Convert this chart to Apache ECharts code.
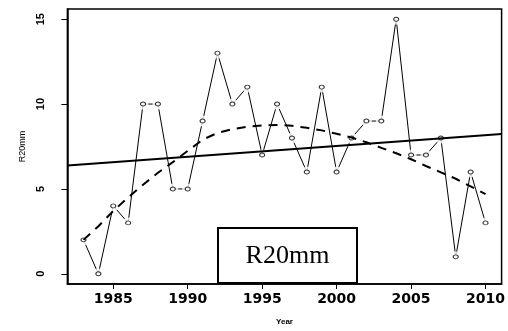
<!DOCTYPE html>
<html>
<head>
<meta charset="utf-8">
<script src="https://cdn.jsdelivr.net/npm/echarts@6/dist/echarts.min.js"></script>
<style>html,body{margin:0;padding:0;background:#fff}#c{width:508px;height:331px}</style>
</head>
<body>
<div id="c"></div>
<script>
// Data
const years = [1983,1984,1985,1986,1987,1988,1989,1990,1991,1992,1993,1994,1995,1996,1997,1998,1999,2000,2001,2002,2003,2004,2005,2006,2007,2008,2009,2010];
const r20mm = [2,0,4,3,10,10,5,5,9,13,10,11,7,10,8,6,11,6,8,9,9,15,7,7,8,1,6,3];
// smooth (dashed) curve at each year
const smoothVals = [2.0,2.8,3.7,4.5,5.25,5.95,6.58,7.24,7.9,8.3,8.52,8.66,8.74,8.77,8.72,8.6,8.45,8.25,8.03,7.75,7.42,7.1,6.75,6.35,5.98,5.6,5.15,4.69];
// linear trend line endpoints (at plot edges)
const trendX = [1981.92, 2011.08];
const trendY = [6.38, 8.23];
const xTicks = [1985,1990,1995,2000,2005,2010];
const yTicks = [0,5,10,15];
const boxLabel = 'R20mm';

const pts = years.map((y,i)=>[y, r20mm[i]]);
const smooth = years.map((y,i)=>[y, smoothVals[i]]);
const trend = trendX.map((x,i)=>[x, trendY[i]]);

const chart = echarts.init(document.getElementById('c'), null, {renderer:'canvas'});
chart.setOption({
  animation:false,
  backgroundColor:'#fff',
  grid:{left:67.4, right:6.2, top:9, bottom:43, show:true, borderColor:'#000', borderWidth:1.5, backgroundColor:'transparent'},
  xAxis:{
    type:'value', min:1981.92, max:2011.08,
    name:'Year', nameLocation:'middle', nameGap:34,
    nameTextStyle:{fontFamily:'Liberation Sans', fontWeight:'bold', fontSize:8, color:'#000'},
    axisLine:{show:true, onZero:false, lineStyle:{color:'#000', width:1.5}},
    axisTick:{show:true, length:5, customValues:xTicks, lineStyle:{color:'#000', width:1}},
    axisLabel:{customValues:xTicks, formatter:v=>String(v), margin:8, fontFamily:'DejaVu Sans', fontWeight:'bold', fontSize:14, color:'#000'},
    splitLine:{show:false}
  },
  yAxis:{
    type:'value', min:-0.6, max:15.6,
    name:'R20mm', nameLocation:'middle', nameGap:40, nameRotate:90,
    nameTextStyle:{fontFamily:'Liberation Sans', fontSize:9, color:'#000'},
    axisLine:{show:true, onZero:false, lineStyle:{color:'#000', width:1.5}},
    axisTick:{show:true, length:6, customValues:yTicks, lineStyle:{color:'#000', width:1}},
    axisLabel:{customValues:yTicks, formatter:v=>String(v), rotate:90, margin:21, fontFamily:'Liberation Sans', fontWeight:'bold', fontSize:11, color:'#000'},
    splitLine:{show:false}
  },
  series:[
    {type:'line', data:pts, symbol:'none', lineStyle:{color:'#000', width:1}, z:1},
    {type:'scatter', data:pts, symbol:'circle', symbolSize:11, itemStyle:{color:'#fff'}, z:2, silent:true},
    {type:'scatter', data:pts, symbol:'circle', symbolSize:[5,4], itemStyle:{color:'#fff', borderColor:'#000', borderWidth:1}, z:3},
    {type:'line', data:trend, symbol:'none', lineStyle:{color:'#000', width:2}, z:4},
    {type:'line', data:smooth, symbol:'none', smooth:false, lineStyle:{color:'#000', width:2, type:[9,7], cap:'butt', join:'round'}, z:5}
  ],
  graphic:[
    {type:'rect', shape:{x:218, y:228, width:139, height:55}, style:{fill:'#fff', stroke:'#000', lineWidth:2}, z:10},
    {type:'text', x:287.5, y:256, style:{text:boxLabel, font:'26px "Liberation Serif"', fill:'#000', textAlign:'center', textVerticalAlign:'middle'}, z:11}
  ]
});
</script>
</body>
</html>
